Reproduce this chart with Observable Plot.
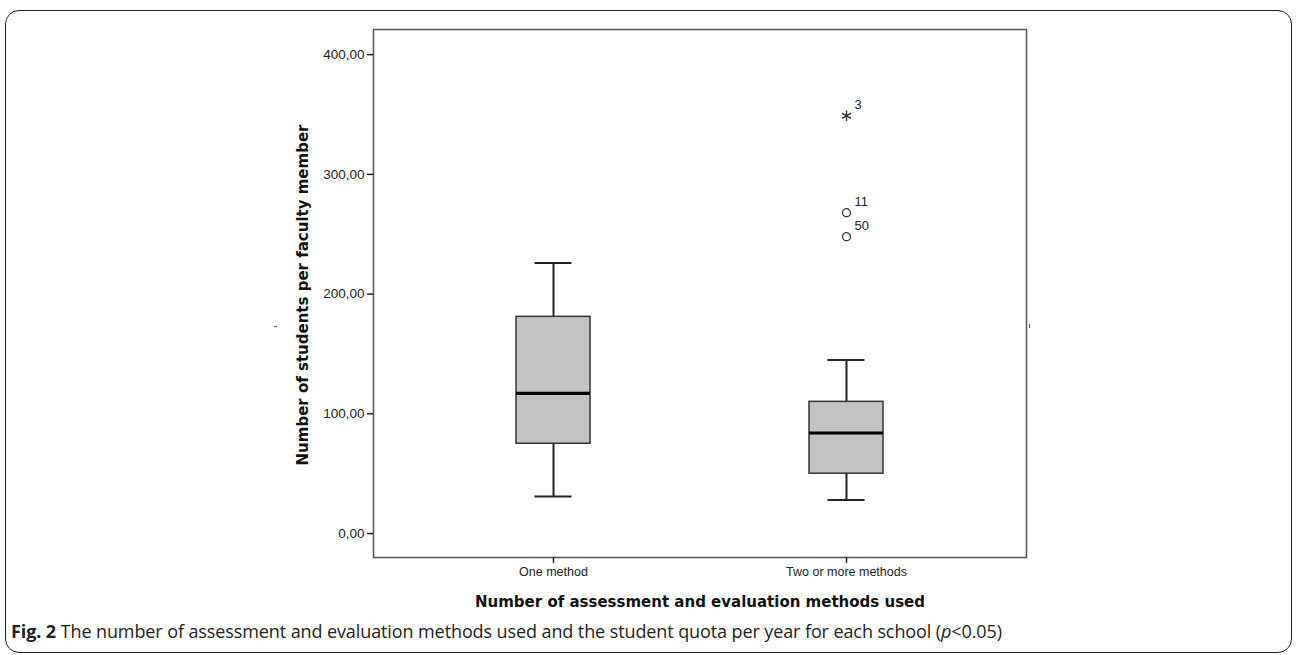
<!DOCTYPE html>
<html>
<head>
<meta charset="utf-8">
<script src="https://cdn.jsdelivr.net/npm/d3@7"></script>
<script src="https://cdn.jsdelivr.net/npm/@observablehq/plot@0.6"></script>
<style>
  html, body { margin: 0; padding: 0; background: #fff; }
  body { width: 1296px; height: 655px; overflow: hidden; position: relative; font-family: "Liberation Sans", Arial, sans-serif; }
  #border { position: absolute; left: 5px; top: 10px; width: 1287px; height: 643px; border: 1.8px solid #222; border-radius: 14px; box-sizing: border-box; }
  #chart { position: absolute; left: 0; top: 0; }
  #ytitle { position: absolute; left: 303px; top: 295px; transform: translate(-50%, -50%) rotate(-90deg); white-space: nowrap; font-family: "DejaVu Sans", sans-serif; font-weight: bold; font-size: 15px; color: #111; }
  #xtitle { position: absolute; left: 700px; top: 602px; transform: translate(-50%, -50%); white-space: nowrap; font-family: "DejaVu Sans", sans-serif; font-weight: bold; font-size: 15px; color: #111; }
  #caption { position: absolute; left: 11px; top: 631px; transform: translateY(-50%); white-space: nowrap; font-family: "Open Sans", sans-serif; font-size: 18px; color: #222; letter-spacing: -0.1px; }
  #caption b { font-weight: bold; }
  .mk { position: absolute; background: #555; }
</style>
</head>
<body>
<div id="border"></div>
<div id="chart"></div>
<div id="ytitle">Number of students per faculty member</div>
<div id="xtitle">Number of assessment and evaluation methods used</div>
<div id="caption"><b>Fig. 2</b> The number of assessment and evaluation methods used and the student quota per year for each school (<i>p</i>&lt;0.05)</div>
<div class="mk" style="left:274px;top:326px;width:3px;height:1px"></div>
<div class="mk" style="left:1029px;top:324px;width:1px;height:4px"></div>
<script>
const categories = ["One method", "Two or more methods"];
const whiskerLow = [31, 28];
const q1 = [75, 50];
const median = [117, 84];
const q3 = [181, 110];
const whiskerHigh = [226, 145];

const outlierGroup = ["Two or more methods", "Two or more methods", "Two or more methods"];
const outlierValue = [349, 268, 248];
const outlierLabel = ["3", "11", "50"];
const outlierType = ["extreme", "outlier", "outlier"];

const yTicks = [0, 100, 200, 300, 400];

const boxes = categories.map((c, i) => ({
  cat: c, lo: whiskerLow[i], q1: q1[i], med: median[i], q3: q3[i], hi: whiskerHigh[i]
}));
const outliers = outlierValue.map((v, i) => ({
  cat: outlierGroup[i], v, label: outlierLabel[i], type: outlierType[i]
}));

const fmt = d => d.toFixed(2).replace(".", ",");

const chart = Plot.plot({
  width: 1296,
  height: 590,
  marginLeft: 373,
  marginRight: 270,
  marginTop: 29,
  marginBottom: 33,
  style: { fontFamily: "'Liberation Sans', Arial, sans-serif", color: "#222", background: "transparent" },
  x: { type: "band", domain: categories, paddingInner: 0.748, paddingOuter: 0.485, label: null },
  y: { domain: [-20, 421], label: null },
  marks: [
    Plot.frame({ stroke: "#555", strokeWidth: 1.5 }),
    Plot.axisY({ ticks: yTicks, tickFormat: fmt, tickSize: 6, tickPadding: 3, fontSize: 13.5, label: null, stroke: "#222", strokeWidth: 1.5 }),
    Plot.axisX({ tickSize: 6, tickPadding: 4, fontSize: 12.5, label: null, stroke: "#222", strokeWidth: 1.5 }),
    Plot.ruleX(boxes, { x: "cat", y1: "lo", y2: "q1", stroke: "#222", strokeWidth: 2 }),
    Plot.ruleX(boxes, { x: "cat", y1: "q3", y2: "hi", stroke: "#222", strokeWidth: 2 }),
    Plot.tickY(boxes, { x: "cat", y: "lo", stroke: "#222", strokeWidth: 2, insetLeft: 18.5, insetRight: 18.5 }),
    Plot.tickY(boxes, { x: "cat", y: "hi", stroke: "#222", strokeWidth: 2, insetLeft: 18.5, insetRight: 18.5 }),
    Plot.barY(boxes, { x: "cat", y1: "q1", y2: "q3", fill: "#c3c3c3", stroke: "#333", strokeWidth: 1.5 }),
    Plot.tickY(boxes, { x: "cat", y: "med", stroke: "#000", strokeWidth: 3.2 }),
    Plot.dot(outliers.filter(d => d.type === "outlier"), { x: "cat", y: "v", r: 4, symbol: "circle", fill: "#fff", stroke: "#333", strokeWidth: 1.3 }),
    Plot.dot(outliers.filter(d => d.type === "extreme"), { x: "cat", y: "v", r: 5, symbol: "asterisk", stroke: "#333", strokeWidth: 1.4 }),
    Plot.text(outliers, { x: "cat", y: "v", text: "label", textAnchor: "start", dx: 8, dy: -11, fontSize: 13, fill: "#222" })
  ]
});
document.getElementById("chart").appendChild(chart);
</script>
</body>
</html>
